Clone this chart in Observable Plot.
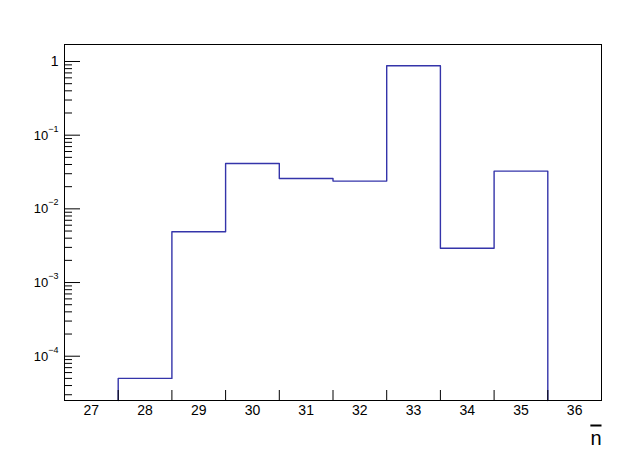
<!DOCTYPE html>
<html><head><meta charset="utf-8">
<script src="https://cdn.jsdelivr.net/npm/d3@7"></script>
<script src="https://cdn.jsdelivr.net/npm/@observablehq/plot@0.6"></script>
<style>
body{margin:0;background:#fff}
#chart svg{font-family:"Liberation Sans",Arial,Helvetica,sans-serif}
</style>
</head><body><div id="chart"></div>
<script>
// Histogram bins (lower / upper edges) and contents
const binLow  = [27.5, 28.5, 29.5, 30.5, 31.5, 32.5, 33.5, 34.5];
const binHigh = [28.5, 29.5, 30.5, 31.5, 32.5, 33.5, 34.5, 35.5];
const counts  = [5.0e-5, 4.9e-3, 4.12e-2, 2.58e-2, 2.38e-2, 0.875, 2.92e-3, 3.25e-2];
// Axis tick labels
const xTickLabels = [27, 28, 29, 30, 31, 32, 33, 34, 35, 36];
const xTickEdges  = [27.5, 28.5, 29.5, 30.5, 31.5, 32.5, 33.5, 34.5, 35.5];
const yMajor  = [1e-4, 1e-3, 1e-2, 1e-1, 1];
const yLabels = ["10^-4", "10^-3", "10^-2", "10^-1", "1"];
const xTitle = "n";

const W = 628, H = 455;
const mL = 64, mR = 27, mT = 44, mB = 55;
const frameW = W - mL - mR, frameH = H - mT - mB;
const yDomain = [Math.pow(10, -4.601), Math.pow(10, 0.2307)];
const xDomain = [26.5, 36.5];

// minor log ticks (2..9 per decade) inside the domain
const yMinor = [];
for (let e = -5; e <= 0; e++) for (let m = 2; m <= 9; m++) {
  const v = m * Math.pow(10, e);
  if (v >= yDomain[0] && v <= yDomain[1]) yMinor.push(v);
}

// step outline of the histogram
const steps = [{x: binLow[0], y: yDomain[0]}];
binLow.forEach((lo, i) => { steps.push({x: lo, y: counts[i]}); steps.push({x: binHigh[i], y: counts[i]}); });
steps.push({x: binHigh[binHigh.length - 1], y: yDomain[0]});

const chart = Plot.plot({
  width: W, height: H,
  marginLeft: mL, marginRight: mR, marginTop: mT, marginBottom: mB,
  style: {fontFamily: '"Liberation Sans",Arial,Helvetica,sans-serif', fontSize: "14px", background: "#fff", color: "#000"},
  x: {domain: xDomain, axis: null},
  y: {type: "log", domain: yDomain, axis: null},
  marks: [
    Plot.line(steps, {x: "x", y: "y", stroke: "#3434aa", strokeWidth: 1.4, curve: "linear"}),
    Plot.tickX(xTickEdges, {x: d => d, stroke: "#000", strokeWidth: 1, insetTop: frameH - 10}),
    Plot.tickY(yMajor, {y: d => d, stroke: "#000", strokeWidth: 1, insetRight: frameW - 16}),
    Plot.tickY(yMinor, {y: d => d, stroke: "#000", strokeWidth: 1, insetRight: frameW - 8}),
    Plot.axisX({ticks: xTickLabels, tickSize: 0, tickPadding: 5, tickFormat: d => String(d), fontSize: 14, label: null, fill: "#000"}),
    Plot.axisY({ticks: yMajor, tickSize: 0, tickPadding: 6, tickFormat: d => yLabels[yMajor.indexOf(d)], fontSize: 14, label: null, fill: "#000"}),
    Plot.frame({stroke: "#000", strokeWidth: 1}),
    Plot.text([xTitle], {frameAnchor: "bottom-right", text: d => d, textAnchor: "end", lineAnchor: "bottom", dy: 44, fontSize: 20, fill: "#000"})
  ]
});
document.getElementById("chart").appendChild(chart);

// superscript exponents in y tick labels, overline on the x title
d3.select(chart).selectAll("text").each(function () {
  const t = this.textContent;
  const sel = d3.select(this);
  if (t.includes("^")) {
    const [b, e] = t.split("^");
    sel.text(null);
    sel.append("tspan").style("font-size", "13px").text(b);
    sel.append("tspan").style("font-size", "9px").attr("dy", "-8px").text(e.replace("-", "\u2212"));
  } else if (t === xTitle) {
    sel.style("text-decoration", "overline").style("font-size", "20px");
  } else {
    sel.style("font-size", "14px");
  }
});
</script>
</body></html>
